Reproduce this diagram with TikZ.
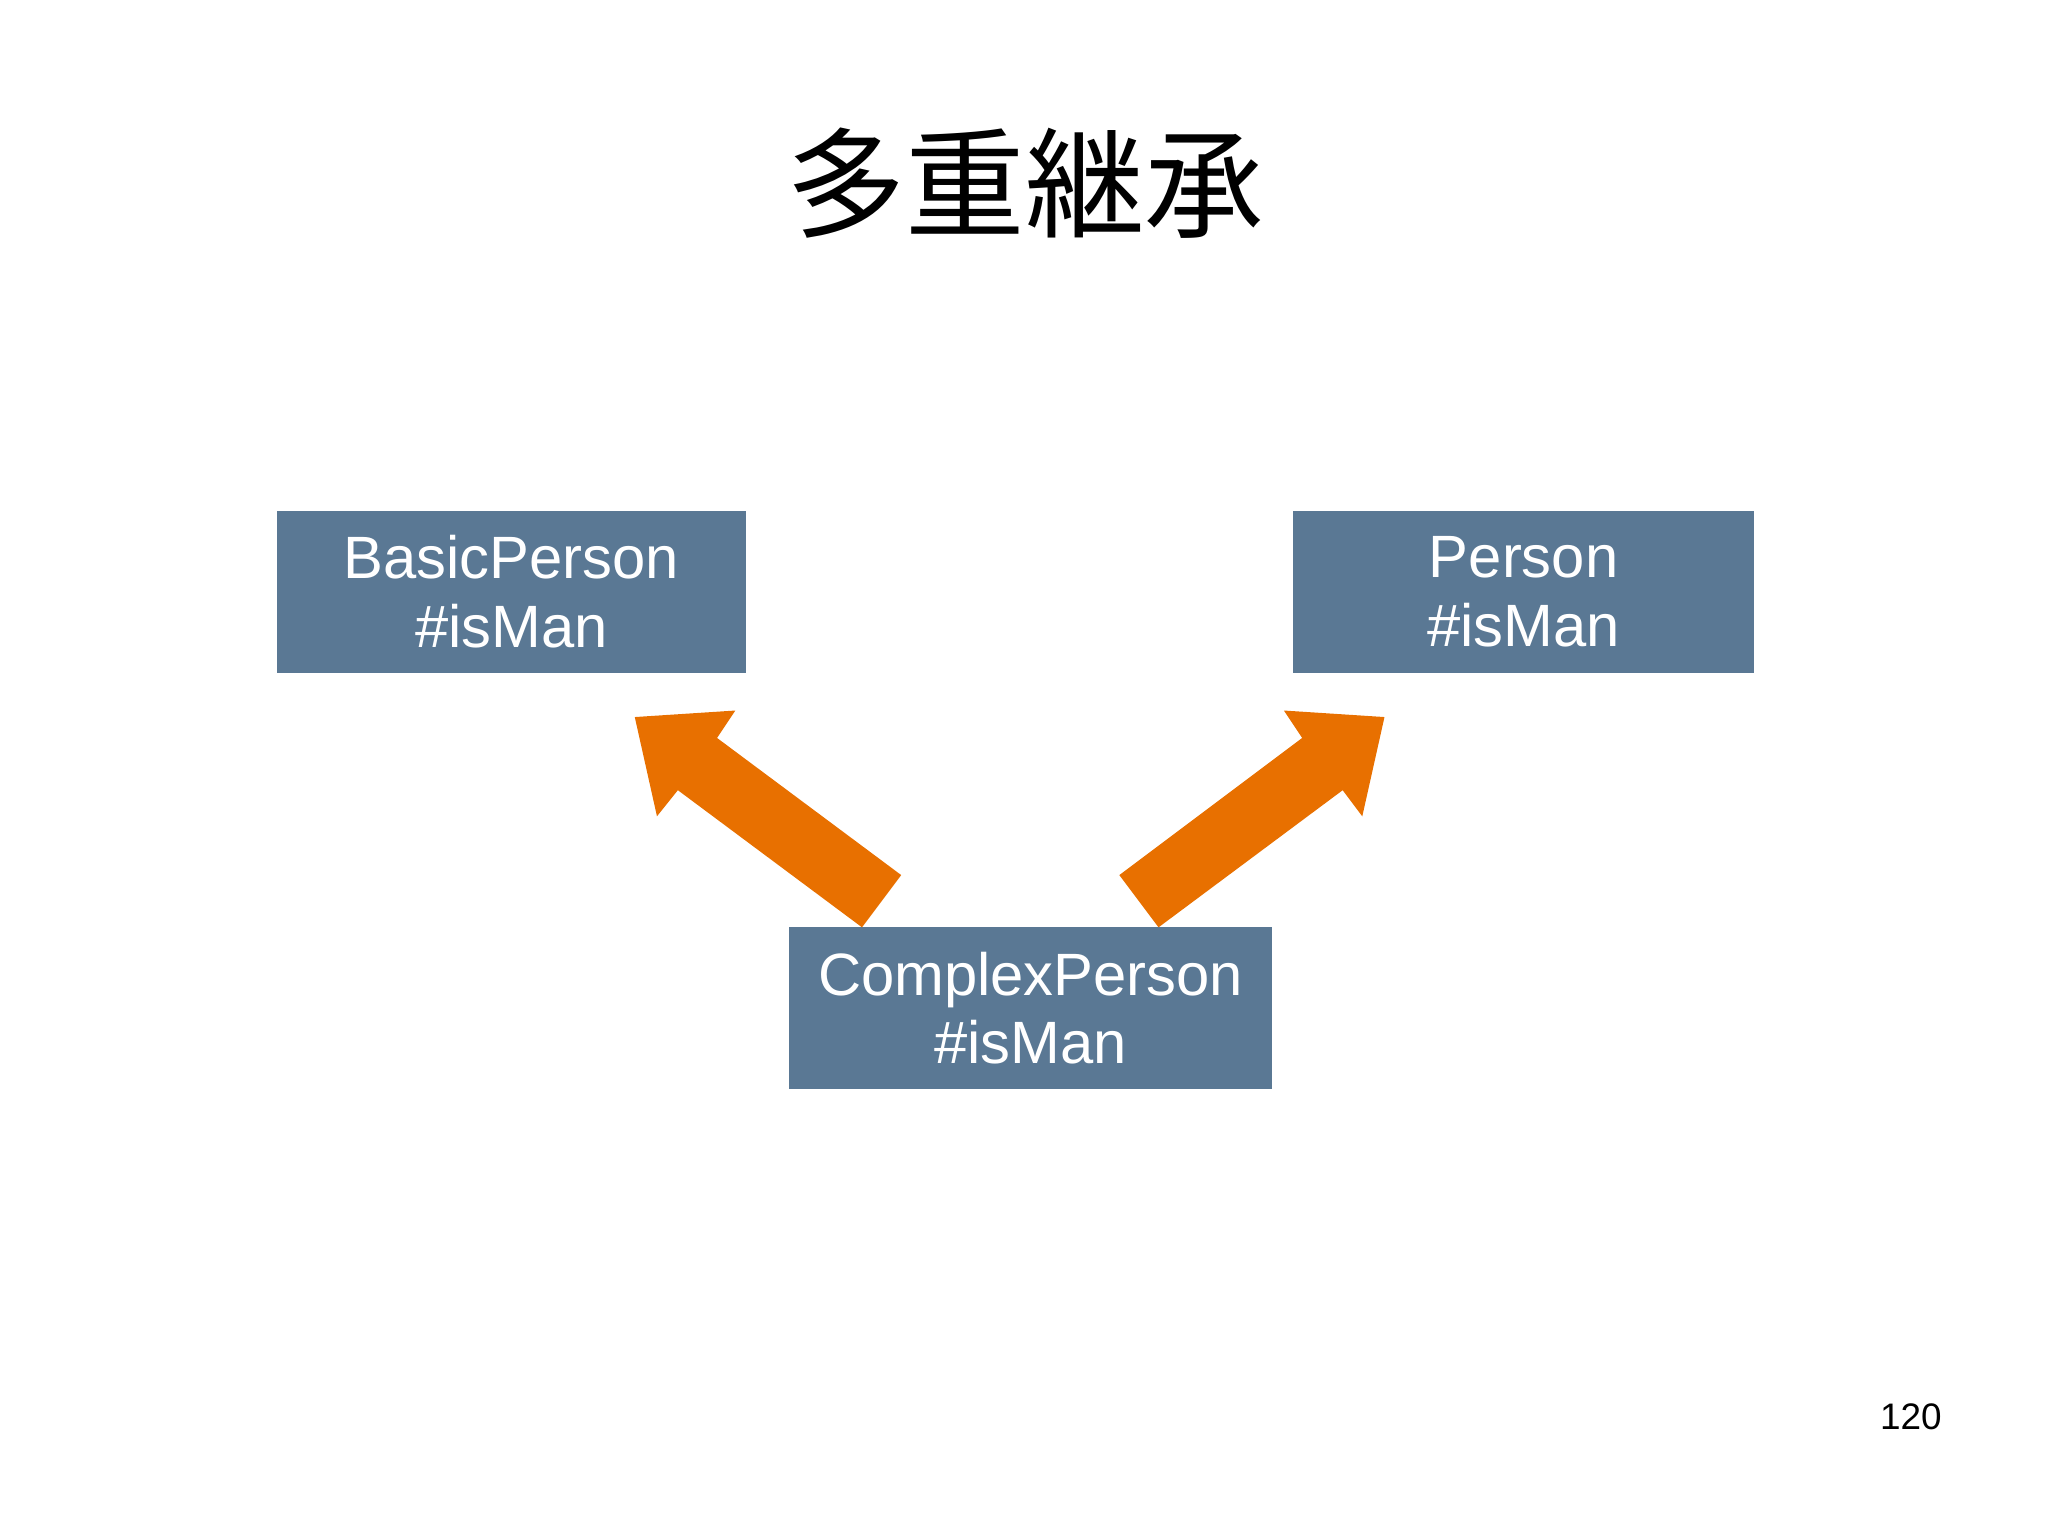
\documentclass[tikz,border=0pt]{standalone}
\usepackage{fontspec}
\setmainfont{Liberation Sans}
\newfontfamily\cjk{Noto Sans CJK JP}
\definecolor{boxc}{HTML}{5A7894}
\definecolor{arrc}{HTML}{E87000}
\begin{document}
\begin{tikzpicture}[x=0.013061cm,y=-0.013061cm,
  cls/.style={fill=boxc,draw=none,text=white,font=\fontsize{17}{19.5}\selectfont,align=center,inner sep=0pt}]
\useasboundingbox (0,0) rectangle (1568,1176);
\node[font=\cjk\fontsize{34}{40}\selectfont] (title) at (785,140) {多重継承};
\fill[boxc] (212,391) rectangle (571,515);
\node[cls,fill=none] (bp) at (391.5,453) {BasicPerson\\\#isMan};
\fill[boxc] (990,391) rectangle (1343,515);
\node[cls,fill=none] (p) at (1166.5,453) {Person\\\#isMan};
\fill[boxc] (604,710) rectangle (974,834);
\node[cls,fill=none] (cp) at (789,772) {ComplexPerson\\\#isMan};
\fill[arrc] (486,549) -- (563,544) -- (549,565) -- (690,670) -- (660,710) -- (519,605) -- (503,625) -- cycle;
\fill[arrc] (1060,549) -- (983,544) -- (997,565) -- (857,670) -- (887,710) -- (1028,605) -- (1043,625) -- cycle;
\node[font=\fontsize{10.5}{12}\selectfont] (pg) at (1463,1085) {120};
\end{tikzpicture}
\end{document}
